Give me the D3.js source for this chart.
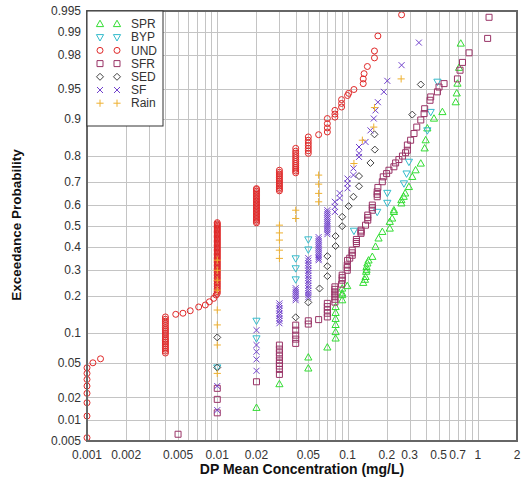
<!DOCTYPE html>
<html>
<head>
<meta charset="utf-8">
<script src="https://cdn.jsdelivr.net/npm/d3@7"></script>
<style>
  body { margin: 0; background: #fff; }
  text { font-family: "Liberation Sans", Arial, sans-serif; fill: #333; }
</style>
</head>
<body>
<svg id="chart" width="522" height="483"></svg>
<script>
// Tick labels
const X_TICKS = [0.001, 0.002, 0.005, 0.01, 0.02, 0.05, 0.1, 0.2, 0.3, 0.5, 0.7, 1, 2];
const Y_TICKS = [0.005, 0.01, 0.02, 0.05, 0.1, 0.2, 0.3, 0.4, 0.5, 0.6, 0.7, 0.8, 0.9, 0.95, 0.98, 0.99, 0.995];

// Series values: [concentration mg/L, exceedance probability]
const SPR = [
  [0.02, 0.0147], [0.03, 0.0291], [0.05, 0.044], [0.05, 0.0577], [0.07, 0.0729],
  [0.081, 0.089], [0.081, 0.102], [0.081, 0.118], [0.081, 0.133], [0.081, 0.149], [0.081, 0.166],
  [0.091, 0.187], [0.091, 0.204], [0.091, 0.21], [0.091, 0.227], [0.0995, 0.236],
  [0.132, 0.248], [0.136, 0.26], [0.1375, 0.271], [0.139, 0.292], [0.14, 0.30], [0.14, 0.312],
  [0.142, 0.327], [0.145, 0.34], [0.155, 0.356], [0.164, 0.402], [0.173, 0.441], [0.185, 0.472],
  [0.211, 0.488], [0.211, 0.52], [0.22, 0.536], [0.227, 0.567], [0.227, 0.575], [0.259, 0.607],
  [0.259, 0.622], [0.27, 0.637], [0.277, 0.652], [0.296, 0.68], [0.314, 0.722], [0.333, 0.748],
  [0.365, 0.773], [0.391, 0.824], [0.398, 0.848], [0.41, 0.879], [0.461, 0.901], [0.535, 0.914],
  [0.677, 0.931], [0.689, 0.944], [0.698, 0.956], [0.718, 0.971], [0.74, 0.9856]
];
const BYP = [
  [0.01, 0.045], [0.02, 0.089], [0.02, 0.128], [0.04, 0.261], [0.04, 0.306], [0.04, 0.349],
  [0.05, 0.389], [0.05, 0.436], [0.112, 0.477], [0.169, 0.567], [0.202, 0.609], [0.202, 0.654],
  [0.271, 0.695], [0.284, 0.735], [0.296, 0.779], [0.41, 0.874], [0.435, 0.914], [0.49, 0.958]
];
// UND: stacked values at reporting levels, then the scattered points
const UND_AT_0004 = [0.064, 0.067, 0.07, 0.073, 0.076, 0.079, 0.082, 0.085, 0.088, 0.092, 0.096,
  0.1, 0.104, 0.108, 0.112, 0.117, 0.122, 0.127, 0.132, 0.138];
const UND_AT_001 = [0.21, 0.216, 0.222, 0.228, 0.234, 0.24, 0.246, 0.252, 0.258, 0.264, 0.27, 0.276,
  0.282, 0.288, 0.294, 0.3, 0.306, 0.312, 0.318, 0.324, 0.33, 0.336, 0.342, 0.348, 0.354, 0.36,
  0.366, 0.372, 0.378, 0.384, 0.39, 0.396, 0.402, 0.408, 0.414, 0.42, 0.426, 0.432, 0.438, 0.444,
  0.45, 0.456, 0.462, 0.468, 0.474, 0.48, 0.486, 0.492, 0.498, 0.504, 0.51, 0.516];
const UND_AT_002 = [0.515, 0.522, 0.529, 0.536, 0.543, 0.55, 0.557, 0.564, 0.571, 0.578, 0.585,
  0.592, 0.599, 0.606, 0.613, 0.62, 0.627, 0.634, 0.641, 0.648, 0.655, 0.662, 0.669, 0.673];
const UND_AT_003 = [0.663, 0.67, 0.677, 0.684, 0.691, 0.698, 0.705, 0.712, 0.719, 0.726, 0.733, 0.74, 0.748];
const UND_AT_004 = [0.738, 0.745, 0.752, 0.759, 0.766, 0.773, 0.78, 0.787, 0.794, 0.801, 0.808, 0.815, 0.824];
const UND_AT_005 = [0.808, 0.816, 0.824, 0.832, 0.84, 0.848, 0.857];
const UND_OTHER = [
  [0.001, 0.0056], [0.001, 0.0114], [0.001, 0.0171], [0.001, 0.0225], [0.001, 0.0276],
  [0.001, 0.033], [0.001, 0.0387], [0.001, 0.0447], [0.00111, 0.0506], [0.00127, 0.0558],
  [0.0048, 0.145], [0.00545, 0.148], [0.0062, 0.155], [0.0072, 0.166],
  [0.0081, 0.172], [0.0087, 0.182], [0.0094, 0.193], [0.0098, 0.204],
  [0.06, 0.863], [0.07, 0.87], [0.07, 0.88], [0.07, 0.89], [0.07, 0.901],
  [0.08, 0.904], [0.08, 0.91], [0.08, 0.917], [0.09, 0.923], [0.09, 0.929], [0.09, 0.935],
  [0.1, 0.941], [0.102, 0.944], [0.112, 0.949], [0.132, 0.956], [0.132, 0.961], [0.134, 0.966],
  [0.142, 0.972], [0.161, 0.978], [0.161, 0.982], [0.171, 0.9886], [0.26, 0.9943]
];
const SFR = [
  [0.005, 0.0063], [0.01, 0.0126], [0.01, 0.0189], [0.01, 0.0259], [0.02, 0.031],
  [0.03, 0.0377], [0.03, 0.0429], [0.03, 0.0467], [0.03, 0.0499], [0.03, 0.054], [0.03, 0.0595],
  [0.03, 0.0644], [0.03, 0.0701], [0.03, 0.0768],
  [0.04, 0.0798], [0.04, 0.0877], [0.04, 0.0955], [0.04, 0.106], [0.04, 0.1175],
  [0.05, 0.12], [0.05, 0.128], [0.06, 0.131],
  [0.07, 0.138], [0.07, 0.148], [0.07, 0.157], [0.07, 0.167], [0.07, 0.177],
  [0.08, 0.181], [0.08, 0.19], [0.08, 0.198], [0.08, 0.207], [0.08, 0.215], [0.08, 0.224], [0.08, 0.233],
  [0.09, 0.243], [0.091, 0.258], [0.091, 0.268], [0.091, 0.278], [0.0995, 0.298], [0.0995, 0.309],
  [0.0995, 0.32], [0.1, 0.34], [0.104, 0.35], [0.1087, 0.363], [0.1087, 0.374], [0.1087, 0.386],
  [0.117, 0.417], [0.117, 0.426], [0.117, 0.436], [0.127, 0.465], [0.127, 0.472], [0.127, 0.48],
  [0.1375, 0.504], [0.143, 0.528], [0.143, 0.54], [0.143, 0.552], [0.155, 0.575], [0.155, 0.587],
  [0.155, 0.599], [0.169, 0.637], [0.169, 0.648], [0.169, 0.659], [0.171, 0.678], [0.185, 0.702],
  [0.188, 0.722], [0.1995, 0.735], [0.208, 0.748], [0.227, 0.761], [0.234, 0.775], [0.248, 0.787],
  [0.264, 0.799], [0.279, 0.81], [0.288, 0.818], [0.288, 0.834], [0.305, 0.848], [0.324, 0.866],
  [0.34, 0.882], [0.365, 0.898], [0.387, 0.911], [0.391, 0.92], [0.43, 0.934], [0.435, 0.939],
  [0.49, 0.946], [0.504, 0.952], [0.551, 0.956], [0.698, 0.961], [0.731, 0.969], [0.763, 0.975],
  [0.857, 0.981], [1.19, 0.9877], [1.22, 0.9938]
];
const SED = [
  [0.01, 0.045], [0.01, 0.091], [0.04, 0.137], [0.05, 0.18], [0.061, 0.227], [0.07, 0.274],
  [0.07, 0.315], [0.07, 0.359], [0.081, 0.405], [0.081, 0.452], [0.091, 0.499], [0.091, 0.544],
  [0.102, 0.594], [0.111, 0.637], [0.1225, 0.683], [0.1225, 0.725], [0.15, 0.775], [0.162, 0.82],
  [0.161, 0.864], [0.314, 0.909], [0.365, 0.955]
];
const SF = [
  [0.01, 0.0137], [0.01, 0.0276],
  [0.02, 0.0414], [0.02, 0.055], [0.02, 0.066], [0.02, 0.077], [0.02, 0.106],
  [0.03, 0.122], [0.03, 0.128], [0.03, 0.134], [0.03, 0.141], [0.03, 0.147], [0.03, 0.155],
  [0.03, 0.162], [0.03, 0.17], [0.03, 0.177],
  [0.04, 0.187], [0.04, 0.193], [0.04, 0.2], [0.04, 0.207], [0.04, 0.214], [0.04, 0.221], [0.04, 0.228],
  [0.05, 0.197], [0.05, 0.204], [0.05, 0.211], [0.05, 0.219], [0.05, 0.228], [0.05, 0.237],
  [0.05, 0.247], [0.05, 0.256], [0.05, 0.266], [0.05, 0.276], [0.05, 0.286], [0.05, 0.296],
  [0.05, 0.307], [0.05, 0.318], [0.05, 0.328], [0.05, 0.339], [0.05, 0.35],
  [0.06, 0.341], [0.06, 0.348], [0.06, 0.355], [0.06, 0.363], [0.06, 0.372], [0.06, 0.381],
  [0.06, 0.391], [0.06, 0.4], [0.06, 0.409], [0.06, 0.418], [0.06, 0.428], [0.06, 0.437], [0.06, 0.447],
  [0.07, 0.461], [0.07, 0.47], [0.07, 0.48], [0.07, 0.49], [0.07, 0.5], [0.07, 0.509], [0.07, 0.518],
  [0.07, 0.527], [0.07, 0.537], [0.07, 0.546], [0.07, 0.556], [0.07, 0.565], [0.07, 0.575],
  [0.08, 0.567], [0.08, 0.591], [0.08, 0.614], [0.087, 0.631], [0.087, 0.653],
  [0.1, 0.674], [0.1, 0.695], [0.1, 0.715], [0.111, 0.729], [0.111, 0.755],
  [0.1225, 0.796], [0.1225, 0.808], [0.1225, 0.828], [0.1375, 0.843], [0.15, 0.874], [0.159, 0.901],
  [0.164, 0.917], [0.171, 0.931], [0.19, 0.946], [0.202, 0.959], [0.26, 0.973], [0.353, 0.986]
];
const RAIN = [
  [0.01, 0.0387], [0.01, 0.077], [0.01, 0.118], [0.01, 0.157], [0.01, 0.221], [0.01, 0.258],
  [0.01, 0.298], [0.01, 0.341],
  [0.03, 0.349], [0.03, 0.386], [0.03, 0.433], [0.03, 0.467], [0.03, 0.504],
  [0.04, 0.536], [0.04, 0.575],
  [0.06, 0.614], [0.06, 0.652], [0.06, 0.692], [0.06, 0.729],
  [0.112, 0.773], [0.13, 0.848], [0.159, 0.882], [0.161, 0.922], [0.258, 0.961]
];

const UND = [
  ...UND_OTHER.slice(0, 10),
  ...UND_AT_0004.map(p => [0.004, p]),
  ...UND_OTHER.slice(10, 18),
  ...UND_AT_001.map(p => [0.01, p]),
  ...UND_AT_002.map(p => [0.02, p]),
  ...UND_AT_003.map(p => [0.03, p]),
  ...UND_AT_004.map(p => [0.04, p]),
  ...UND_AT_005.map(p => [0.05, p]),
  ...UND_OTHER.slice(18)
];

// marker outlines (hollow)
const SHAPES = {
  triUp: "M0,-3.8L3.6,2.6L-3.6,2.6Z",
  triDown: "M0,3.8L3.6,-2.6L-3.6,-2.6Z",
  circle: "M3,0A3,3 0 1,1 -3,0A3,3 0 1,1 3,0Z",
  square: "M-3,-3H3V3H-3Z",
  diamond: "M0,-3.5L3.5,0L0,3.5L-3.5,0Z",
  cross: "M-3,-3L3,3M-3,3L3,-3",
  plus: "M-3.6,0H3.6M0,-3.6V3.6"
};

const SERIES = [
  { name: "SPR", data: SPR, shape: "triUp", color: "#33dd33" },
  { name: "BYP", data: BYP, shape: "triDown", color: "#33bbcc" },
  { name: "UND", data: UND, shape: "circle", color: "#e02828" },
  { name: "SFR", data: SFR, shape: "square", color: "#993366" },
  { name: "SED", data: SED, shape: "diamond", color: "#404040" },
  { name: "SF", data: SF, shape: "cross", color: "#7040cc" },
  { name: "Rain", data: RAIN, shape: "plus", color: "#eeb030" }
];

// inverse normal CDF (Acklam) for the probability axis
function probit(p) {
  const a = [-39.69683028665376, 220.9460984245205, -275.9285104469687, 138.3577518672690, -30.66479806614716, 2.506628277459239];
  const b = [-54.47609879822406, 161.5858368580409, -155.6989798598866, 66.80131188771972, -13.28068155288572];
  const c = [-0.007784894002430293, -0.3223964580411365, -2.400758277161838, -2.549732539343734, 4.374664141464968, 2.938163982698783];
  const d = [0.007784695709041462, 0.3224671290700398, 2.445134137142996, 3.754408661907416];
  const pl = 0.02425;
  let q, r;
  if (p < pl) {
    q = Math.sqrt(-2 * Math.log(p));
    return (((((c[0]*q+c[1])*q+c[2])*q+c[3])*q+c[4])*q+c[5]) / ((((d[0]*q+d[1])*q+d[2])*q+d[3])*q+1);
  }
  if (p <= 1 - pl) {
    q = p - 0.5; r = q * q;
    return (((((a[0]*r+a[1])*r+a[2])*r+a[3])*r+a[4])*r+a[5])*q / (((((b[0]*r+b[1])*r+b[2])*r+b[3])*r+b[4])*r+1);
  }
  q = Math.sqrt(-2 * Math.log(1 - p));
  return -(((((c[0]*q+c[1])*q+c[2])*q+c[3])*q+c[4])*q+c[5]) / ((((d[0]*q+d[1])*q+d[2])*q+d[3])*q+1);
}

const svg = d3.select("#chart");
const plotLeft = 87, plotRight = 517, plotTop = 11, plotBottom = 441;

const x = d3.scaleLog().domain([0.001, 2]).range([plotLeft, plotRight]);
const yz = d3.scaleLinear().domain([probit(0.005), probit(0.995)]).range([plotBottom, plotTop]);
const y = p => yz(probit(p));

// grid: 1..9 per decade, up to 1
const xGrid = [];
for (let k = -3; k <= 0; k++) {
  for (let m = 1; m <= 9; m++) {
    const v = m * Math.pow(10, k);
    if (v <= 1.0000001) xGrid.push(v);
  }
}

const grid = svg.append("g").attr("stroke", "#c4c4c4").attr("stroke-width", 1);
grid.selectAll("line.v").data(xGrid).enter().append("line")
  .attr("x1", d => Math.round(x(d)) + 0.5).attr("x2", d => Math.round(x(d)) + 0.5)
  .attr("y1", plotTop).attr("y2", plotBottom);
grid.selectAll("line.h").data(Y_TICKS).enter().append("line")
  .attr("x1", plotLeft).attr("x2", plotRight)
  .attr("y1", d => Math.round(y(d)) + 0.5).attr("y2", d => Math.round(y(d)) + 0.5);

// data
SERIES.forEach(s => {
  svg.append("g").selectAll("path").data(s.data).enter().append("path")
    .attr("d", SHAPES[s.shape])
    .attr("transform", d => `translate(${x(d[0])},${y(d[1])})`)
    .attr("fill", "none")
    .attr("stroke", s.color)
    .attr("stroke-width", 1);
});

// frame
svg.append("rect")
  .attr("x", plotLeft).attr("y", plotTop)
  .attr("width", plotRight - plotLeft).attr("height", plotBottom - plotTop)
  .attr("fill", "none").attr("stroke", "#666").attr("stroke-width", 2);

// tick labels
svg.append("g").selectAll("text").data(X_TICKS).enter().append("text")
  .attr("x", d => x(d)).attr("y", 459)
  .attr("text-anchor", "middle").attr("font-size", 12)
  .text(d => d);
svg.append("g").selectAll("text").data(Y_TICKS).enter().append("text")
  .attr("x", 81).attr("y", d => y(d)).attr("dy", "0.35em")
  .attr("text-anchor", "end").attr("font-size", 12)
  .text(d => d);

// axis titles
svg.append("text")
  .attr("x", (plotLeft + plotRight) / 2).attr("y", 474)
  .attr("text-anchor", "middle").attr("font-size", 14).attr("font-weight", "bold")
  .style("fill", "#111")
  .text("DP Mean Concentration (mg/L)");
svg.append("text")
  .attr("transform", "translate(21,225) rotate(-90)")
  .attr("text-anchor", "middle").attr("font-size", 13.5).attr("font-weight", "bold")
  .style("fill", "#111")
  .text("Exceedance Probability");

// legend
const legend = svg.append("g");
legend.append("rect")
  .attr("x", plotLeft).attr("y", plotTop).attr("width", 76).attr("height", 115)
  .attr("fill", "#fff").attr("stroke", "#333").attr("stroke-width", 1);
const item = legend.selectAll("g").data(SERIES).enter().append("g")
  .attr("transform", (d, i) => `translate(0,${24 + i * 13.2})`);
[100, 117].forEach(cx => {
  item.append("path")
    .attr("d", d => SHAPES[d.shape])
    .attr("transform", `translate(${cx},0)`)
    .attr("fill", "none").attr("stroke", d => d.color);
});
item.append("text")
  .attr("x", 131).attr("dy", "0.35em").attr("font-size", 12)
  .text(d => d.name);
</script>
</body>
</html>
